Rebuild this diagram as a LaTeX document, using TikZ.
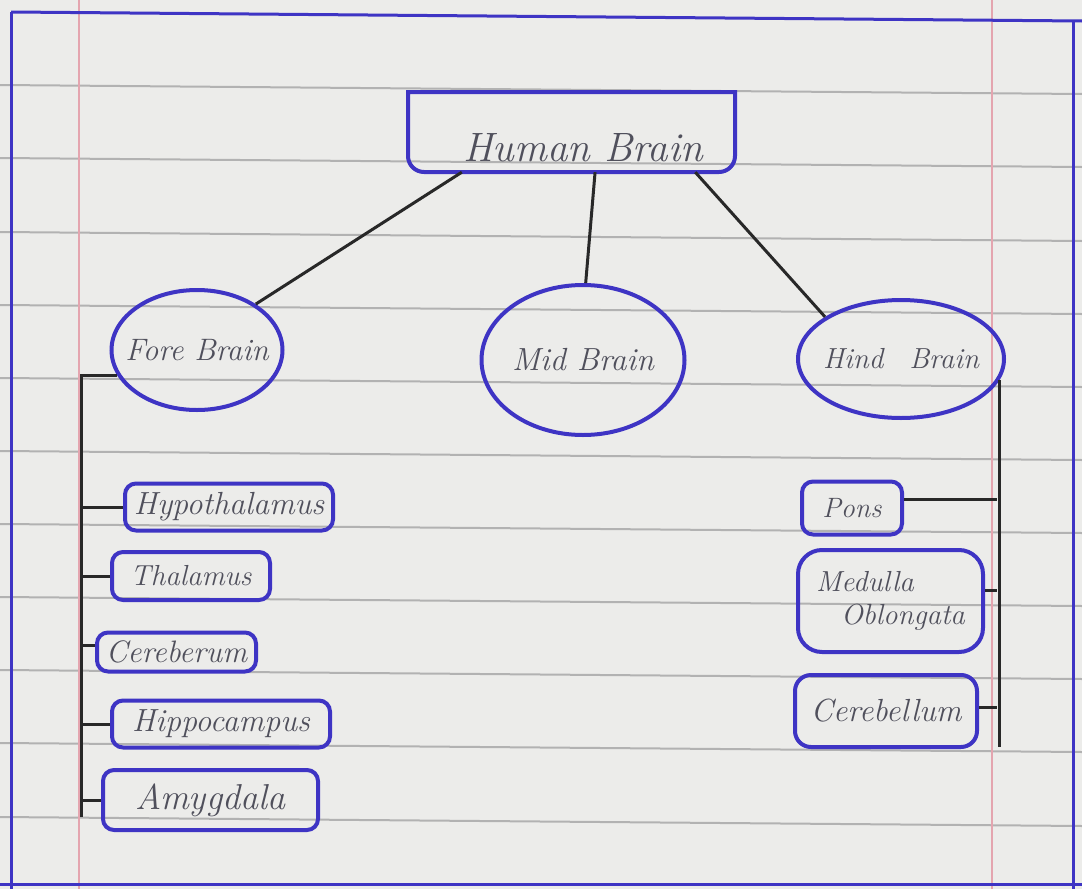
\documentclass[tikz,border=0pt]{standalone}
\usepackage{fontspec}
\usetikzlibrary{shapes.geometric,calc}
\definecolor{penblue}{RGB}{62,52,196}
\definecolor{paper}{RGB}{236,236,234}
\definecolor{ruleline}{RGB}{178,178,178}
\definecolor{pinkm}{RGB}{228,165,175}
\definecolor{pencil}{RGB}{80,80,92}
\definecolor{ink}{RGB}{40,40,40}
\newcommand\hw[1]{\fontsize{#1}{#1}\selectfont\itshape}
\begin{document}
\begin{tikzpicture}[x=1pt,y=-1pt,
  blueline/.style={draw=penblue,line width=4pt},
  item/.style={blueline,rounded corners=11pt,inner sep=0pt,text=pencil,align=center},
  lobe/.style={blueline,ellipse,inner sep=0pt,text=pencil},
  conn/.style={draw=ink,line width=3pt},
  ruled/.style={draw=ruleline,line width=2pt},
  margin/.style={draw=pinkm,line width=1.5pt},
  frame/.style={draw=penblue,line width=3pt}]
% paper
\fill[paper] (0,0) rectangle (1082,889);
\useasboundingbox (0,0) rectangle (1082,889);
\foreach \y in {85,158,232,305,378,451,524,597,670,743,817}
  \draw[ruled] (0,\y) -- (1082,\y+9);
\draw[margin] (79,0) -- (79,889);
\draw[margin] (992,0) -- (992,889);
\draw[frame] (11,12) -- (1082,21);
\draw[frame] (11,12) -- (11,889);
\draw[frame] (0,884) -- (1082,884);
\draw[frame] (1073,20) -- (1073,889);

% root
\node[minimum width=327pt,minimum height=80pt,inner sep=0pt] (hbox) at (571.5,132) {};
\draw[blueline] (408,92) -- (735,92) -- (735,156) arc[start angle=0,end angle=90,radius=16]
  -- (424,172) arc[start angle=90,end angle=180,radius=16] -- cycle;
\node[text=pencil,font=\hw{41}] (hbl) at (583,148) {Human Brain};

% lobes
\node[lobe,minimum width=171pt,minimum height=120pt,font=\hw{31}] (fore) at (197,350) {\makebox[0pt]{Fore Brain}};
\node[lobe,minimum width=203pt,minimum height=150pt,font=\hw{32}] (mid) at (583,360) {\makebox[0pt]{Mid Brain}};
\node[lobe,minimum width=206pt,minimum height=118pt,font=\hw{29}] (hind) at (901,359) {\makebox[0pt]{Hind\hspace{26pt}Brain}};

\draw[conn] ($(hbox.south west)!0.165!(hbox.south east)$) -- (fore.38);
\draw[conn] ($(hbox.south west)!0.572!(hbox.south east)$) -- (mid.88);
\draw[conn] ($(hbox.south west)!0.878!(hbox.south east)$) -- (hind.151);

% fore brain parts
\node[item,minimum width=208pt,minimum height=47pt,font=\hw{32}] (hyp) at (229,507) {Hypothalamus};
\node[item,minimum width=158pt,minimum height=48pt,font=\hw{29}] (thal) at (191,576) {Thalamus};
\node[item,minimum width=159pt,minimum height=39pt,font=\hw{31}] (cere) at (176.5,652) {Cereberum};
\node[item,minimum width=218pt,minimum height=47pt,font=\hw{32}] (hippo) at (221,724) {Hippocampus};
\node[item,minimum width=215pt,minimum height=60pt,font=\hw{36}] (amyg) at (210.5,800) {Amygdala};
\coordinate (lbot) at (81,817);
\draw[conn] (fore.198) -| (lbot);
\draw[conn] (hyp.west) -- (hyp.west -| lbot);
\draw[conn] (thal.west) -- (thal.west -| lbot);
\draw[conn] ([yshift=7pt]cere.west) -- ([yshift=7pt]cere.west -| lbot);
\draw[conn] (hippo.west) -- (hippo.west -| lbot);
\draw[conn] (amyg.west) -- (amyg.west -| lbot);

% hind brain parts
\node[item,minimum width=100pt,minimum height=53pt,font=\hw{28}] (pons) at (852,508) {Pons};
\node[item,rounded corners=24pt,minimum width=185pt,minimum height=102pt,font=\hw{29},align=left] (med) at (890.5,601) {Medulla\\[4pt]\hspace*{25pt}Oblongata};
\node[item,rounded corners=16pt,minimum width=182pt,minimum height=72pt,font=\hw{32}] (cereb) at (886,711) {Cerebellum};
\coordinate (rbot) at (997,747);
\draw[conn] (hind.-12) -- (hind.-12 |- rbot);
\draw[conn] ([yshift=9pt]pons.east) -- ([yshift=9pt]pons.east -| rbot);
\draw[conn] ([yshift=11pt]med.east) -- ([yshift=11pt]med.east -| rbot);
\draw[conn] ([yshift=4pt]cereb.east) -- ([yshift=4pt]cereb.east -| rbot);
\end{tikzpicture}
\end{document}
